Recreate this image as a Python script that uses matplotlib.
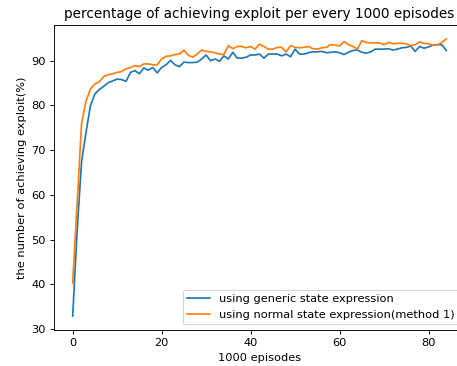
import matplotlib
matplotlib.use("Agg")
import matplotlib.pyplot as plt
import numpy as np

generic = [32.9, 52.0, 67.5, 74.0, 80.0, 82.6, 83.6, 84.3, 85.1, 85.5,
           85.9, 85.8, 85.4, 87.4, 87.8, 87.1, 88.4, 87.9, 88.5, 87.3,
           88.5, 89.1, 90.1, 89.1, 88.7, 89.7, 89.6, 89.6, 89.7, 90.4,
           91.3, 90.0, 90.4, 89.9, 91.1, 90.4, 91.9, 90.6, 90.6, 90.8,
           91.3, 91.3, 91.5, 90.6, 91.5, 91.5, 91.5, 91.1, 91.5, 90.9,
           92.6, 91.5, 91.5, 91.8, 92.0, 92.0, 92.1, 91.8, 91.9, 92.0,
           91.8, 91.4, 91.9, 92.3, 92.4, 91.9, 91.7, 92.0, 92.6, 92.6,
           92.6, 92.7, 92.4, 92.6, 92.9, 93.0, 93.3, 92.1, 93.2, 92.8,
           93.1, 93.5, 93.6, 93.6, 92.3]

normal = [40.3, 58.0, 76.0, 81.0, 83.7, 84.8, 85.3, 86.5, 86.9, 87.1,
          87.4, 87.6, 88.2, 88.5, 88.9, 88.7, 89.3, 89.3, 89.1, 89.1,
          90.4, 91.0, 91.1, 91.4, 91.5, 92.4, 91.2, 90.8, 91.5, 92.4,
          92.1, 92.0, 91.8, 91.5, 91.4, 93.4, 92.7, 93.2, 93.2, 92.9,
          93.2, 92.6, 93.7, 93.2, 92.6, 92.6, 93.0, 93.0, 92.0, 93.4,
          93.0, 92.9, 93.0, 93.2, 92.7, 92.6, 92.9, 93.0, 93.6, 93.5,
          93.3, 94.3, 93.6, 93.2, 92.6, 94.5, 94.1, 94.0, 94.0, 94.0,
          93.6, 94.1, 93.8, 93.9, 93.9, 93.8, 93.4, 93.6, 94.2, 93.9,
          93.8, 93.5, 93.5, 94.1, 94.9]

labels = ["using generic state expression",
          "using normal state expression(method 1)"]

W, H = 458, 366
DPI = 82
fig = plt.figure(figsize=(W / DPI, H / DPI), dpi=DPI)
left, right, top, bottom = 54, 465, 25, 330
ax = fig.add_axes([left / W, (H - bottom) / H, (right - left) / W, (bottom - top) / H])

x = np.arange(len(generic))
ax.plot(x, generic, color="#1f77b4", label=labels[0])
ax.plot(x, normal, color="#ff7f0e", label=labels[1])

ax.set_title("percentage of achieving exploit per every 1000 episodes")
ax.set_xlabel("1000 episodes")
ax.set_ylabel("the number of achieving exploit(%)")
ax.set_xticks([0, 20, 40, 60, 80])
ax.legend(loc="lower right")

fig.savefig("out.png", dpi=DPI)
